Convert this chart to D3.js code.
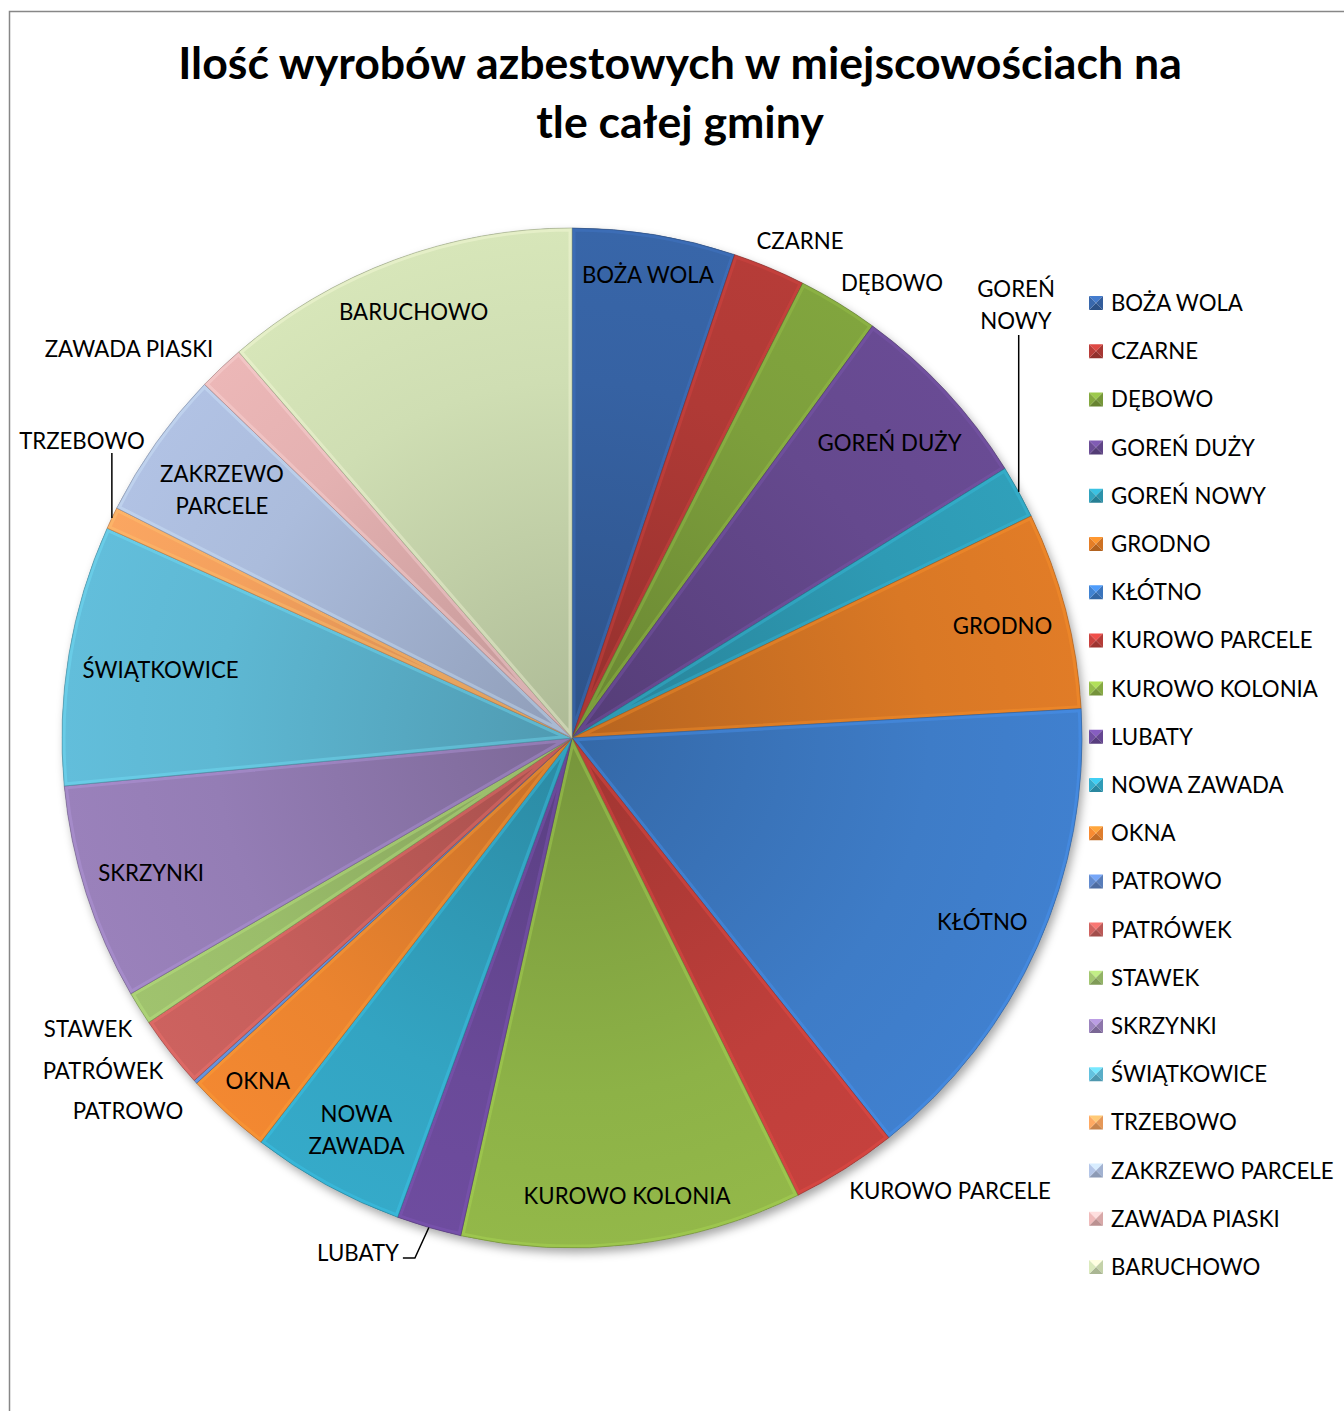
<!DOCTYPE html>
<html>
<head>
<meta charset="utf-8">
<script src="https://cdn.jsdelivr.net/npm/d3@7"></script>
<style>
  body { margin: 0; background: #fff; }
  text { font-family: Lato, "Open Sans", sans-serif; fill: #000; }
</style>
</head>
<body>
<div id="chart"></div>
<script>
// Places (in legend / slice order, clockwise from 12 o'clock)
var places = ["BOŻA WOLA", "CZARNE", "DĘBOWO", "GOREŃ DUŻY", "GOREŃ NOWY", "GRODNO",
  "KŁÓTNO", "KUROWO PARCELE", "KUROWO KOLONIA", "LUBATY", "NOWA ZAWADA", "OKNA",
  "PATROWO", "PATRÓWEK", "STAWEK", "SKRZYNKI", "ŚWIĄTKOWICE", "TRZEBOWO",
  "ZAKRZEWO PARCELE", "ZAWADA PIASKI", "BARUCHOWO"];

// Amount of asbestos products per place
var amounts = [186, 83, 92, 220, 61, 225, 549, 121, 389, 74, 176, 98,
  4, 83, 38, 247, 297, 25, 171, 53, 408];

var colors = ["#3764a6", "#b33b37", "#7fa23d", "#674a91", "#2f9db7", "#dd7a26",
  "#3f7ecb", "#c2403c", "#90b548", "#6c4b9c", "#34a7c5", "#ef8630",
  "#5f86c8", "#c9605d", "#9dc06c", "#977fb8", "#60bbd7", "#f7a35f",
  "#aebfe0", "#e8b4b4", "#d3e2b6"];

var titleLines = ["Ilość wyrobów azbestowych w miejscowościach na", "tle całej gminy"];

// labels that Excel put outside the pie: centre of the text block
var outsideLabels = {
  "CZARNE": [800, 241],
  "DĘBOWO": [892, 283],
  "GOREŃ NOWY": [1016, 305],
  "KUROWO PARCELE": [950, 1191],
  "LUBATY": [358, 1253],
  "PATROWO": [128, 1111],
  "PATRÓWEK": [103, 1071],
  "STAWEK": [88, 1029],
  "TRZEBOWO": [82, 441],
  "ZAWADA PIASKI": [129, 349]
};
var leaderLabels = ["GOREŃ NOWY", "LUBATY", "TRZEBOWO"];
var splitLabels = {"GOREŃ NOWY": ["GOREŃ", "NOWY"], "NOWA ZAWADA": ["NOWA", "ZAWADA"],
  "ZAKRZEWO PARCELE": ["ZAKRZEWO", "PARCELE"]};

var width = 1344, height = 1411,
    cx = 572, cy = 738, R = 510,
    lineH = 32;

var svg = d3.select("#chart").append("svg")
  .attr("width", width)
  .attr("height", height);
var defs = svg.append("defs");

// chart area border (runs off the right and bottom of the picture)
svg.append("rect")
  .attr("x", 9.5).attr("y", 11.5)
  .attr("width", width).attr("height", height)
  .attr("fill", "none")
  .attr("stroke", "#878787")
  .attr("stroke-width", 1.5);

// measure helper
function textWidth(str, size, weight) {
  var t = svg.append("text").attr("font-size", size).attr("font-weight", weight || 400).text(str);
  var w = t.node().getComputedTextLength();
  t.remove();
  return w;
}

// Title, sized so line 1 spans the same width as the original
var titleFs = 44 * 1004 / textWidth(titleLines[0], 44, 700);
var title = svg.append("text")
  .attr("text-anchor", "middle")
  .attr("font-weight", 700)
  .attr("font-size", titleFs);
title.selectAll("tspan")
  .data(titleLines)
  .join("tspan")
    .attr("x", 680)
    .attr("y", (d, i) => 79 + i * 59)
    .text(d => d);

// label font sized on "BOŻA WOLA" (132px wide in the original)
var fs = 22 * 132 / textWidth("BOŻA WOLA", 22);
var capOff = fs * 0.36;

// Pie
var pie = d3.pie().sort(null).value(d => d);
var arcs = pie(amounts);
var arc = d3.arc().innerRadius(0).outerRadius(R);

var shadow = defs.append("filter").attr("id", "shadow")
  .attr("x", "-10%").attr("y", "-10%").attr("width", "120%").attr("height", "120%");
shadow.append("feDropShadow")
  .attr("dx", 3).attr("dy", 5).attr("stdDeviation", 5)
  .attr("flood-color", "#000").attr("flood-opacity", 0.35);

var g = svg.append("g").attr("transform", `translate(${cx},${cy})`);

g.append("circle").attr("r", R).attr("fill", "#888").attr("filter", "url(#shadow)");

arcs.forEach(function (a, i) {
  var c = d3.color(colors[i]);
  var gr = defs.append("radialGradient").attr("id", "grad" + i)
    .attr("gradientUnits", "userSpaceOnUse")
    .attr("cx", 0).attr("cy", 0).attr("r", R);
  gr.append("stop").attr("offset", 0).attr("stop-color", c.darker(0.55));
  gr.append("stop").attr("offset", 0.7).attr("stop-color", c.darker(0.05));
  gr.append("stop").attr("offset", 1).attr("stop-color", c.brighter(0.05));
  defs.append("clipPath").attr("id", "clip" + i)
    .append("path").attr("d", arc(a));
});

var slices = g.selectAll("g.slice")
  .data(arcs)
  .join("g")
    .attr("class", "slice");

slices.append("path")
  .attr("d", arc)
  .attr("fill", (d, i) => `url(#grad${i})`);

// inner bevel: light edge, clipped to the slice
slices.append("path")
  .attr("d", arc)
  .attr("fill", "none")
  .attr("clip-path", (d, i) => `url(#clip${i})`)
  .attr("stroke", (d, i) => d3.color(colors[i]).brighter(0.6))
  .attr("stroke-opacity", 0.35)
  .attr("stroke-width", 7);

slices.append("path")
  .attr("d", arc)
  .attr("fill", "none")
  .attr("stroke", (d, i) => d3.color(colors[i]).darker(0.8))
  .attr("stroke-opacity", 0.6)
  .attr("stroke-width", 1);

// Data labels
var labels = svg.append("g").attr("font-size", fs);

function pointOnArc(a, r) {
  var m = (a.startAngle + a.endAngle) / 2;
  return [cx + r * Math.sin(m), cy - r * Math.cos(m)];
}

arcs.forEach(function (a, i) {
  var name = places[i];
  var lines = splitLabels[name] || [name];
  var w = d3.max(lines, l => textWidth(l, fs));
  var h = 24 + (lines.length - 1) * lineH;
  var pos;
  if (outsideLabels[name]) {
    pos = outsideLabels[name];
  } else {
    // "inside end": push the label box out until its far corner nears the rim
    var m = (a.startAngle + a.endAngle) / 2,
        ux = Math.sin(m), uy = -Math.cos(m),
        lo = 0, hi = R;
    for (var k = 0; k < 40; k++) {
      var t = (lo + hi) / 2;
      var px = Math.abs(t * ux) + w / 2, py = Math.abs(t * uy) + h / 2;
      if (Math.hypot(px, py) <= R - 14) lo = t; else hi = t;
    }
    pos = [cx + lo * ux, cy + lo * uy];
  }
  var txt = labels.append("text").attr("text-anchor", "middle");
  lines.forEach(function (l, j) {
    txt.append("tspan")
      .attr("x", pos[0])
      .attr("y", pos[1] - (lines.length - 1) * lineH / 2 + j * lineH + capOff)
      .text(l);
  });

  if (leaderLabels.indexOf(name) >= 0) {
    var end = pointOnArc(a, R);
    var path;
    if (name === "LUBATY") {
      var sx = pos[0] + w / 2 + 4, sy = pos[1] + 5;
      path = `M${sx},${sy}H${sx + 12}L${end[0]},${end[1]}`;
    } else {
      var top = pos[1] + h / 2 + (lines.length - 1) * 2;
      path = `M${end[0]},${top}L${end[0]},${end[1]}`;
    }
    labels.append("path")
      .attr("d", path)
      .attr("fill", "none")
      .attr("stroke", "#000")
      .attr("stroke-width", 1.5);
  }
});

// Legend
var legend = svg.append("g").attr("font-size", fs);
var row = legend.selectAll("g")
  .data(places)
  .join("g")
    .attr("transform", (d, i) => `translate(1096,${303 + i * 48.2})`);

// small bevelled squares (pyramid shading like the original)
var s = 7;
var faces = [
  {pts: [[-s, -s], [s, -s], [0, 0]], k: 0.6},
  {pts: [[s, -s], [s, s], [0, 0]], k: -0.2},
  {pts: [[s, s], [-s, s], [0, 0]], k: -0.6},
  {pts: [[-s, s], [-s, -s], [0, 0]], k: 0.1}
];
row.each(function (d, i) {
  var c = d3.color(colors[i]);
  d3.select(this).selectAll("path")
    .data(faces)
    .join("path")
      .attr("d", f => "M" + f.pts.join("L") + "Z")
      .attr("fill", f => f.k >= 0 ? c.brighter(f.k) : c.darker(-f.k));
});
row.append("text")
  .attr("x", 15)
  .attr("y", capOff)
  .text(d => d);
</script>
</body>
</html>
